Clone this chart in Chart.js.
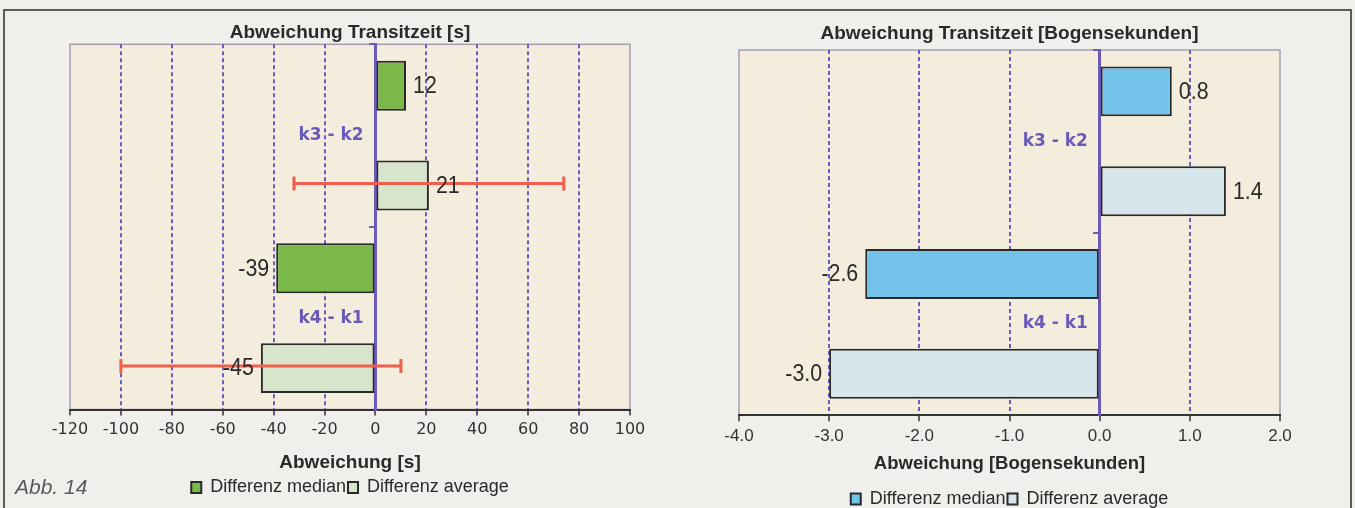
<!DOCTYPE html>
<html>
<head>
<meta charset="utf-8">
<title>Abweichung Transitzeit</title>
<script src="https://cdn.jsdelivr.net/npm/chart.js@4.4.0/dist/chart.umd.min.js"></script>
<style>
  html, body { margin: 0; padding: 0; background: #efefec; }
  body { width: 1355px; height: 508px; position: relative; overflow: hidden; }
  #frame { position: absolute; left: 3px; top: 9px; width: 1349px; height: 520px; border: 2px solid #5c5c5c; box-sizing: border-box; }
  #cLeft { position: absolute; left: 0; top: 0; }
  #cRight { position: absolute; left: 680px; top: 0; }
  #abb { position: absolute; left: 15px; top: 475px; font: italic 21px 'Liberation Sans', Arial, sans-serif; color: #5a5a5a; line-height: 24px; }
</style>
</head>
<body>
<div id="frame"></div>
<canvas id="cLeft" width="680" height="508"></canvas>
<canvas id="cRight" width="675" height="508"></canvas>
<div id="abb">Abb. 14</div>
<script>
// Categories and series
const categories = ['k3 - k2', 'k4 - k1'];
const seriesNames = ['Differenz median', 'Differenz average'];

// Transit time deviation in seconds
const secMedian = [12, -39];
const secAverage = [21, -45];
const secAverageErr = [53, 55];

// Transit time deviation in arc seconds
const arcMedian = [0.8, -2.6];
const arcAverage = [1.4, -3.0];

// Value axis ranges [min, max, step]
const secAxis = [-120, 100, 20];
const arcAxis = [-4, 2, 1];

const SANS = "'Liberation Sans', Arial, sans-serif";
const WIDE = "'DejaVu Sans', Verdana, sans-serif";
const PURPLE = '#6a5bb8';
const INK = '#2a2a2a';

Chart.defaults.font.family = SANS;
Chart.defaults.color = INK;

// Beige plot area with a thin grey frame
const plotBackground = {
  id: 'plotBackground',
  beforeDraw(chart) {
    const { ctx, chartArea: a } = chart;
    ctx.save();
    ctx.fillStyle = '#f4ecdc';
    ctx.fillRect(a.left, a.top, a.right - a.left, a.bottom - a.top);
    ctx.strokeStyle = '#a79fae';
    ctx.lineWidth = 1.5;
    ctx.strokeRect(a.left, a.top, a.right - a.left, a.bottom - a.top);
    ctx.restore();
  }
};

// Horizontal error bars around one dataset
const errorBars = {
  id: 'errorBars',
  afterDatasetsDraw(chart, args, opts) {
    if (!opts.errors) return;
    const { ctx } = chart;
    const xs = chart.scales.x;
    const ds = chart.data.datasets[opts.datasetIndex];
    const meta = chart.getDatasetMeta(opts.datasetIndex);
    ctx.save();
    ctx.strokeStyle = opts.color;
    ctx.lineWidth = opts.width;
    meta.data.forEach((bar, i) => {
      const v = ds.data[i], e = opts.errors[i];
      const x1 = xs.getPixelForValue(v - e), x2 = xs.getPixelForValue(v + e);
      const y = bar.y - 2;
      ctx.beginPath();
      ctx.moveTo(x1, y); ctx.lineTo(x2, y);
      ctx.moveTo(x1, y - 7); ctx.lineTo(x1, y + 7);
      ctx.moveTo(x2, y - 7); ctx.lineTo(x2, y + 7);
      ctx.stroke();
    });
    ctx.restore();
  }
};

// Value labels at the end of each bar, set in a narrowed face
const valueLabels = {
  id: 'valueLabels',
  afterDatasetsDraw(chart, args, opts) {
    const { ctx } = chart;
    chart.data.datasets.forEach((ds, di) => {
      chart.getDatasetMeta(di).data.forEach((bar, i) => {
        const v = ds.data[i];
        const txt = opts.format(v);
        const pos = v >= 0;
        ctx.save();
        ctx.font = opts.font;
        ctx.fillStyle = INK;
        ctx.textBaseline = 'middle';
        ctx.textAlign = pos ? 'left' : 'right';
        ctx.translate(bar.x + (pos ? 7 : -7), bar.y + 1);
        ctx.scale(opts.squeeze, 1);
        ctx.fillText(txt, 0, 0);
        ctx.restore();
      });
    });
  }
};

function makeChart(canvasId, cfg) {
  const [min, max, step] = cfg.axis;
  return new Chart(document.getElementById(canvasId), {
    type: 'bar',
    data: {
      labels: categories,
      datasets: [
        { label: seriesNames[0], data: cfg.median, backgroundColor: cfg.colors[0], borderColor: INK, borderWidth: 2, borderSkipped: false },
        { label: seriesNames[1], data: cfg.average, backgroundColor: cfg.colors[1], borderColor: INK, borderWidth: 2, borderSkipped: false }
      ]
    },
    plugins: [plotBackground, errorBars, valueLabels],
    options: {
      indexAxis: 'y',
      responsive: false,
      animation: false,
      layout: { padding: cfg.padding },
      datasets: { bar: { categoryPercentage: 1.093, barPercentage: 0.5 } },
      scales: {
        x: {
          min, max,
          ticks: {
            stepSize: step, autoSkip: false, maxRotation: 0,
            color: '#333', padding: cfg.tickPad,
            font: cfg.tickFont,
            callback: cfg.tickFormat
          },
          grid: {
            color: c => (c.tick && (c.tick.value === min || c.tick.value === max || c.tick.value === 0)) ? 'rgba(0,0,0,0)' : '#6b5cc0',
            lineWidth: 2,
            drawTicks: true, tickLength: 6, tickColor: '#333', tickWidth: 1.5, tickBorderDash: []
          },
          border: { display: true, color: '#333', width: 2, dash: [4, 3] },
          title: {
            display: true, text: cfg.axisTitle, color: INK,
            font: { family: SANS, size: cfg.axisTitleSize, weight: 'bold' },
            padding: cfg.axisTitlePad
          }
        },
        y: {
          position: { x: 0 },
          z: 1,
          grid: { display: true, drawOnChartArea: false, drawTicks: true, tickLength: 5, offset: true, color: PURPLE, lineWidth: 2 },
          border: { display: true, color: PURPLE, width: 3 },
          ticks: {
            autoSkip: false, color: PURPLE, padding: 6,
            font: { family: WIDE, size: 17, weight: 'bold' },
            callback: (v, i) => categories[i] + '  '
          }
        }
      },
      plugins: {
        title: {
          display: true, text: cfg.title, color: INK,
          font: { family: SANS, size: 19, weight: 'bold' },
          padding: cfg.titlePad
        },
        legend: {
          position: 'bottom',
          labels: { boxWidth: 10, boxHeight: 11, padding: 2, color: INK, font: { family: SANS, size: 18 } }
        },
        tooltip: { enabled: false },
        errorBars: cfg.errorBars || {},
        valueLabels: { font: '23px ' + SANS, squeeze: 0.93, format: cfg.valueFormat }
      }
    }
  });
}

makeChart('cLeft', {
  median: secMedian, average: secAverage,
  colors: ['#7ab84a', '#d6e5cc'],
  axis: secAxis,
  padding: { left: 70, right: 50, top: 0, bottom: 1.5 },
  tickPad: 5,
  tickFont: { family: WIDE, size: 16 },
  tickFormat: v => String(v),
  axisTitle: 'Abweichung [s]', axisTitleSize: 19,
  axisTitlePad: { top: 6.9, bottom: 2.1 },
  title: 'Abweichung Transitzeit [s]',
  titlePad: { top: 21.5, bottom: 0 },
  errorBars: { datasetIndex: 1, errors: secAverageErr, color: '#ef5f4c', width: 3 },
  valueFormat: v => String(v)
});

makeChart('cRight', {
  median: arcMedian, average: arcAverage,
  colors: ['#72c2ea', '#d7e6eb'],
  axis: arcAxis,
  padding: { left: 59, right: 75, top: 0, bottom: -10 },
  tickPad: 4.8,
  tickFont: { family: SANS, size: 17 },
  tickFormat: v => Number(v).toFixed(1),
  axisTitle: 'Abweichung [Bogensekunden]', axisTitleSize: 18.5,
  axisTitlePad: { top: 1.7, bottom: 12.9 },
  title: 'Abweichung Transitzeit [Bogensekunden]',
  titlePad: { top: 22.5, bottom: 4.7 },
  valueFormat: v => v.toFixed(1)
});
</script>
</body>
</html>
